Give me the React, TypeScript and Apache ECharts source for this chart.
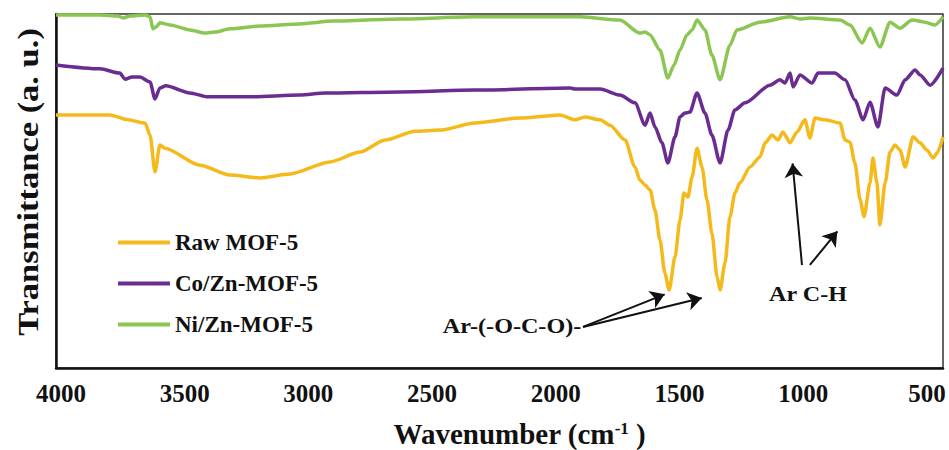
import React, { useEffect, useRef } from "react";
import * as echarts from "echarts";

const xTicks = [4000, 3500, 3000, 2500, 2000, 1500, 1000, 500];

const seriesNames = ["Raw MOF-5", "Co/Zn-MOF-5", "Ni/Zn-MOF-5"];

const rawWavenumber = [4020,3802,3770,3741,3660,3640,3620,3600,3580,3438,3317,3196,3074,2913,2791,2690,2569,2468,2327,2145,1983,1922,1882,1821,1781,1720,1680,1660,1639,1619,1599,1579,1559,1542,1518,1498,1482,1466,1449,1429,1409,1389,1369,1348,1336,1316,1296,1276,1256,1215,1175,1154,1126,1102,1082,1053,1025,993,973,952,912,851,831,811,791,770,754,730,718,702,690,669,649,629,609,588,556,528,500,475,459,435];
const rawTransmittance = [71.5,71.5,70.9,70.3,69.2,65.8,55.4,63.0,62.1,57.3,54.5,53.7,54.8,58.2,61.0,64.4,66.9,67.2,69.2,70.6,71.5,70.1,70.9,70.1,68.6,64.4,56.8,53.1,51.7,50.3,44.6,36.2,26.8,22.0,31.4,41.8,49.4,48.3,54.0,62.1,56.8,47.5,38.1,25.7,22.0,29.7,42.7,49.4,52.3,56.8,59.6,63.6,65.8,64.4,66.7,63.6,66.7,70.1,65.0,70.6,70.1,69.2,64.4,63.8,57.9,47.5,42.7,52.3,59.3,52.3,40.4,52.3,61.0,63.0,61.6,56.8,65.3,63.6,61.6,59.3,60.7,65.3];

const coWavenumber = [4020,3842,3762,3741,3713,3681,3640,3620,3600,3576,3479,3406,3236,3034,2933,2630,2327,1943,1922,1821,1741,1680,1639,1619,1599,1571,1547,1518,1498,1478,1458,1429,1397,1369,1336,1304,1276,1235,1134,1094,1074,1053,1041,1013,964,940,872,831,791,758,730,698,669,621,588,548,528,487,435];
const coTransmittance = [85.6,84.5,83.3,81.6,82.2,82.2,80.8,76.0,79.1,79.7,77.7,76.6,76.6,77.1,77.7,78.0,78.5,79.1,78.8,78.8,77.1,74.9,68.6,72.0,68.1,63.6,57.9,65.3,70.9,72.0,72.3,77.7,72.0,65.8,57.9,67.2,72.9,74.9,79.9,81.4,80.5,83.3,79.4,82.8,80.5,83.3,83.3,81.4,75.7,70.1,75.1,68.1,79.1,77.1,81.4,84.2,82.8,79.9,84.7];

const niWavenumber = [4020,3842,3770,3749,3720,3660,3640,3628,3616,3600,3559,3479,3418,3377,3317,3196,3034,2901,2630,2327,1902,1741,1660,1639,1619,1579,1547,1522,1498,1470,1449,1429,1397,1369,1336,1296,1268,1175,1053,1013,973,851,811,762,730,690,649,609,560,508,467,435];
const niTransmittance = [99.7,99.7,99.4,98.9,99.4,99.7,99.2,95.8,96.3,97.5,96.9,95.5,94.6,94.9,95.8,96.6,97.2,98.0,98.6,99.2,99.2,98.3,94.6,94.9,94.1,89.8,81.9,85.6,89.8,94.1,95.5,98.3,95.5,88.4,81.4,91.2,95.5,97.7,99.2,98.6,98.9,98.3,96.9,91.8,96.0,90.7,97.7,96.0,98.3,97.7,96.9,99.2];

// annotation arrows: [tailWavenumber, tailT, headWavenumber, headT]
const arrows = [
  [1890, 11.6, 1560, 20.8],
  [1890, 11.6, 1410, 19.8],
  [1005, 29.1, 1043, 57.8],
  [973, 29.1, 862, 38.6],
];

const colors = ["#F4BA1C", "#6A2C90", "#8CC652"];
const FONT = "Liberation Serif";

const pairs = (xs: number[], ys: number[]) => xs.map((x, i) => [x, ys[i]]);

export default function App() {
  const ref = useRef<HTMLDivElement>(null);
  useEffect(() => {
    const chart = echarts.init(ref.current!, null, { renderer: "svg" });
    const datasets = [
      pairs(rawWavenumber, rawTransmittance),
      pairs(coWavenumber, coTransmittance),
      pairs(niWavenumber, niTransmittance),
    ];
    chart.setOption({
      animation: false,
      backgroundColor: "#ffffff",
      textStyle: { fontFamily: FONT },
      grid: {
        left: 56,
        right: 6,
        top: 14,
        bottom: 82,
        show: true,
        borderColor: "#333",
        borderWidth: 1.5,
        containLabel: false,
        outerBoundsMode: "none",
      },
      legend: {
        orient: "vertical",
        left: 113,
        top: 226,
        itemWidth: 52,
        itemHeight: 4,
        itemGap: 18,
        icon: "rect",
        data: seriesNames,
        textStyle: {
          fontFamily: FONT,
          fontSize: 23,
          fontWeight: "bold",
          color: "#111",
        },
      },
      xAxis: {
        type: "value",
        inverse: true,
        min: 435,
        max: 4020,
        name: "Wavenumber (cm{sup|-1} )",
        nameLocation: "middle",
        nameGap: 52,
        nameMoveOverlap: false,
        nameTextStyle: {
          fontFamily: FONT,
          fontSize: 29,
          lineHeight: 28,
          fontWeight: "bold",
          color: "#111",
          padding: [0, 0, 0, 40],
          rich: {
            sup: {
              fontFamily: FONT,
              fontSize: 17,
              lineHeight: 28,
              fontWeight: "bold",
              color: "#111",
              verticalAlign: "top",
              padding: [0, 0, 8, 0],
            },
          },
        },
        axisLine: { show: true, onZero: false, lineStyle: { color: "#111", width: 2.5 } },
        axisTick: { show: false },
        splitLine: { show: false },
        axisLabel: {
          customValues: xTicks,
          formatter: (v: number) => String(v),
          margin: 13,
          fontFamily: FONT,
          fontSize: 25,
          fontWeight: "bold",
          color: "#111",
        },
      },
      yAxis: {
        type: "value",
        min: 0,
        max: 100,
        axisLine: { show: true, lineStyle: { color: "#111", width: 2.5 } },
        axisTick: { show: false },
        axisLabel: { show: false },
        splitLine: { show: false },
      },
      series: seriesNames.map((name, i) => ({
        name,
        type: "line",
        data: datasets[i],
        symbol: "none",
        smooth: 0.25,
        smoothMonotone: "x",
        color: colors[i],
        lineStyle: { color: colors[i], width: 3.5 },
        z: 3 - i,
        markLine:
          i === 0
            ? {
                silent: true,
                symbol: ["none", "arrow"],
                symbolSize: 14,
                label: { show: false },
                lineStyle: { color: "#111", width: 2, type: "solid" },
                itemStyle: { color: "#111" },
                data: arrows.map((a) => [
                  { coord: [a[0], a[1]] },
                  { coord: [a[2], a[3]] },
                ]),
              }
            : undefined,
      })),
      graphic: [
        {
          type: "text",
          x: 28,
          y: 182,
          rotation: Math.PI / 2,
          scaleX: 1.15,
          style: {
            text: "Transmittance (a. u.)",
            fontFamily: FONT,
            fontSize: 30,
            fontWeight: "bold",
            fill: "#111",
            align: "center",
            verticalAlign: "middle",
          },
        },
        {
          type: "text",
          x: 512,
          y: 326,
          scaleX: 1.15,
          style: {
            text: "Ar-(-O-C-O)-",
            fontFamily: FONT,
            fontSize: 21,
            fontWeight: "bold",
            fill: "#111",
            align: "center",
            verticalAlign: "middle",
          },
        },
        {
          type: "text",
          x: 808,
          y: 294,
          scaleX: 1.15,
          style: {
            text: "Ar C-H",
            fontFamily: FONT,
            fontSize: 21,
            fontWeight: "bold",
            fill: "#111",
            align: "center",
            verticalAlign: "middle",
          },
        },
      ],
    });
    return () => chart.dispose();
  }, []);
  return (
    <div
      ref={ref}
      style={{ position: "absolute", left: 0, top: 0, width: 949, height: 450 }}
    />
  );
}
